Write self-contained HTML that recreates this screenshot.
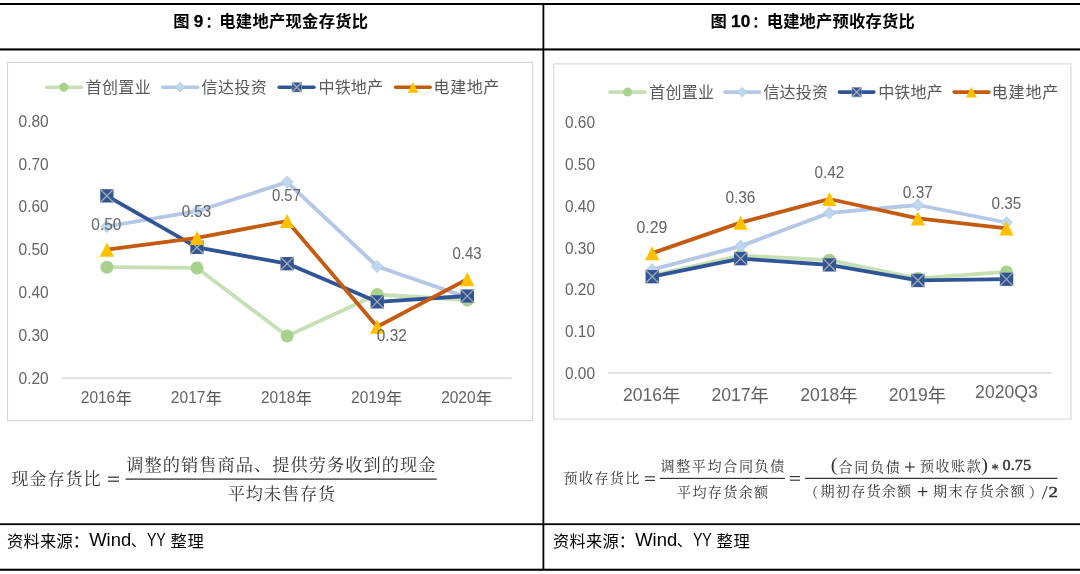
<!DOCTYPE html>
<html lang="zh-CN">
<head>
<meta charset="utf-8">
<title>图 9 / 图 10：电建地产现金存货比、预收存货比</title>
<style>
html,body{margin:0;padding:0;background:#fff}
body{width:1080px;height:574px;overflow:hidden;font-family:"Liberation Sans",sans-serif}
.page{position:relative;width:1080px;height:574px;background:#fff;overflow:hidden}
.blk{position:absolute;overflow:visible;will-change:transform}
svg text{font-family:"Liberation Sans",sans-serif;white-space:pre}
svg text.sf{font-family:"Liberation Serif",serif}
svg text.cj{font-family:"Liberation Sans","Noto Sans CJK SC",sans-serif}
svg text.kai{font-family:"Liberation Serif","Noto Serif CJK SC",serif}
</style>
</head>
<body>
<div class="page">
<svg class="blk" style="left:0px;top:0px" width="1080" height="574" viewBox="0 0 1080 574" role="img" aria-label="table borders"><title>table borders</title><rect x="0.00" y="3.00" width="1080.00" height="2.00" fill="#000"/><rect x="0.00" y="48.40" width="1080.00" height="2.10" fill="#000"/><rect x="0.00" y="523.30" width="1080.00" height="1.80" fill="#000"/><rect x="0.00" y="568.70" width="1080.00" height="2.10" fill="#000"/><rect x="542.50" y="4.00" width="1.80" height="566.00" fill="#000"/></svg>
<section class="fig" aria-label="图 9">
<svg class="blk" style="left:0px;top:5px" width="542" height="43" viewBox="0 5 542 43" role="img" aria-label="图 9：电建地产现金存货比"><title>图 9：电建地产现金存货比</title><text class="cj" x="173.13" y="26.78" font-size="16.3" font-weight="bold" fill="#000">图</text><text x="193.81" y="26.59" font-size="17.40" textLength="9.53" lengthAdjust="spacingAndGlyphs" fill="#000" font-weight="bold" stroke="#000" stroke-width="0.3">9</text><text class="cj" x="205.55" y="26.53" font-size="14.5" font-weight="bold" fill="#000">：</text><text class="cj" x="219.29 235.85 252.41 268.98 285.54 302.10 318.66 335.22 351.78" y="27.09" font-size="16.3" font-weight="bold" fill="#000">电建地产现金存货比</text></svg>
<svg class="blk" style="left:0px;top:51px" width="542" height="385" viewBox="0 51 542 385" role="img" aria-label="电建地产现金存货比 折线图：首创置业、信达投资、中铁地产、电建地产，2016年–2020年"><title>电建地产现金存货比 折线图：首创置业、信达投资、中铁地产、电建地产，2016年–2020年</title><rect x="7.5" y="62.4" width="525.1" height="358.2" fill="#fff" stroke="#D6D6D6" stroke-width="1.1"/><line x1="61.5" y1="378.1" x2="511.7" y2="378.1" stroke="#D2D2D2" stroke-width="1.3"/><line x1="46.6" y1="87.2" x2="81.3" y2="87.2" stroke="#C5E0B4" stroke-width="3.6" stroke-linecap="round"/><circle cx="63.8" cy="87.2" r="4.50" fill="#A9D18E"/><text class="cj" x="85.64 101.99 118.35 134.71" y="92.81" font-size="16" fill="#595959">首创置业</text><line x1="162.8" y1="87.2" x2="197.7" y2="87.2" stroke="#B4C7E7" stroke-width="3.6" stroke-linecap="round"/><path d="M180.2 82.3L185.1 87.2L180.2 92.1L175.3 87.2Z" fill="#BDD7EE" stroke="#B4C7E7" stroke-width="0.8" stroke-linejoin="miter"/><text class="cj" x="201.49 217.93 234.37 250.82" y="92.76" font-size="16" fill="#595959">信达投资</text><line x1="279.3" y1="87.2" x2="313.9" y2="87.2" stroke="#2F5597" stroke-width="3.6" stroke-linecap="round"/><rect x="292.0" y="82.4" width="9.6" height="9.6" fill="#2F5597" stroke="#ABABAB" stroke-width="0.7" stroke-opacity="0.75"/><path d="M292.0 82.4L301.6 92.0M301.6 82.4L292.0 92.0" stroke="#ABABAB" stroke-width="1.40" fill="none"/><text class="cj" x="318.46 334.63 350.79 366.95" y="92.73" font-size="16" fill="#595959">中铁地产</text><line x1="395.5" y1="87.2" x2="430.1" y2="87.2" stroke="#C55A11" stroke-width="3.6" stroke-linecap="round"/><path d="M413.0 81.9L418.4 92.7L407.6 92.7Z" fill="#FFC000"/><text class="cj" x="433.58 450.17 466.76 483.35" y="92.73" font-size="16" fill="#595959">电建地产</text><text x="18.60" y="126.88" font-size="16.50" textLength="30.11" lengthAdjust="spacingAndGlyphs" fill="#636363">0.80</text><text x="18.60" y="169.68" font-size="16.50" textLength="30.11" lengthAdjust="spacingAndGlyphs" fill="#636363">0.70</text><text x="18.60" y="212.48" font-size="16.50" textLength="30.11" lengthAdjust="spacingAndGlyphs" fill="#636363">0.60</text><text x="18.60" y="255.28" font-size="16.50" textLength="30.11" lengthAdjust="spacingAndGlyphs" fill="#636363">0.50</text><text x="18.60" y="298.08" font-size="16.50" textLength="30.11" lengthAdjust="spacingAndGlyphs" fill="#636363">0.40</text><text x="18.60" y="340.88" font-size="16.50" textLength="30.11" lengthAdjust="spacingAndGlyphs" fill="#636363">0.30</text><text x="18.60" y="383.68" font-size="16.50" textLength="30.11" lengthAdjust="spacingAndGlyphs" fill="#636363">0.20</text><polyline points="106.9,267.2 197.0,267.9 287.1,336.0 377.2,294.5 467.3,300.0" fill="none" stroke="#C5E0B4" stroke-width="3.80" stroke-linejoin="round" stroke-linecap="round"/><circle cx="106.9" cy="267.2" r="6.50" fill="#A9D18E"/><circle cx="197.0" cy="267.9" r="6.50" fill="#A9D18E"/><circle cx="287.1" cy="336.0" r="6.50" fill="#A9D18E"/><circle cx="377.2" cy="294.5" r="6.50" fill="#A9D18E"/><circle cx="467.3" cy="300.0" r="6.50" fill="#A9D18E"/><polyline points="106.9,226.5 197.0,211.2 287.1,182.1 377.2,266.5 467.3,297.4" fill="none" stroke="#B4C7E7" stroke-width="3.80" stroke-linejoin="round" stroke-linecap="round"/><path d="M106.9 220.5L112.9 226.5L106.9 232.5L100.9 226.5Z" fill="#BDD7EE" stroke="#B4C7E7" stroke-width="0.8" stroke-linejoin="miter"/><path d="M197.0 205.2L203.0 211.2L197.0 217.2L191.0 211.2Z" fill="#BDD7EE" stroke="#B4C7E7" stroke-width="0.8" stroke-linejoin="miter"/><path d="M287.1 176.1L293.1 182.1L287.1 188.1L281.1 182.1Z" fill="#BDD7EE" stroke="#B4C7E7" stroke-width="0.8" stroke-linejoin="miter"/><path d="M377.2 260.5L383.2 266.5L377.2 272.5L371.2 266.5Z" fill="#BDD7EE" stroke="#B4C7E7" stroke-width="0.8" stroke-linejoin="miter"/><path d="M467.3 291.4L473.3 297.4L467.3 303.4L461.3 297.4Z" fill="#BDD7EE" stroke="#B4C7E7" stroke-width="0.8" stroke-linejoin="miter"/><polyline points="106.9,195.8 197.0,247.3 287.1,263.6 377.2,301.8 467.3,296.0" fill="none" stroke="#2F5597" stroke-width="3.80" stroke-linejoin="round" stroke-linecap="round"/><rect x="100.2" y="189.2" width="13.3" height="13.3" fill="#2F5597" stroke="#ABABAB" stroke-width="0.7" stroke-opacity="0.25"/><path d="M100.2 189.2L113.6 202.5M113.6 189.2L100.2 202.5" stroke="#ABABAB" stroke-width="1.20" fill="none"/><rect x="190.3" y="240.7" width="13.3" height="13.3" fill="#2F5597" stroke="#ABABAB" stroke-width="0.7" stroke-opacity="0.25"/><path d="M190.3 240.7L203.7 254.0M203.7 240.7L190.3 254.0" stroke="#ABABAB" stroke-width="1.20" fill="none"/><rect x="280.5" y="257.0" width="13.3" height="13.3" fill="#2F5597" stroke="#ABABAB" stroke-width="0.7" stroke-opacity="0.25"/><path d="M280.5 257.0L293.8 270.2M293.8 257.0L280.5 270.2" stroke="#ABABAB" stroke-width="1.20" fill="none"/><rect x="370.6" y="295.2" width="13.3" height="13.3" fill="#2F5597" stroke="#ABABAB" stroke-width="0.7" stroke-opacity="0.25"/><path d="M370.6 295.2L383.8 308.4M383.8 295.2L370.6 308.4" stroke="#ABABAB" stroke-width="1.20" fill="none"/><rect x="460.7" y="289.4" width="13.3" height="13.3" fill="#2F5597" stroke="#ABABAB" stroke-width="0.7" stroke-opacity="0.25"/><path d="M460.7 289.4L473.9 302.6M473.9 289.4L460.7 302.6" stroke="#ABABAB" stroke-width="1.20" fill="none"/><polyline points="106.9,249.7 197.0,237.8 287.1,221.0 377.2,326.7 467.3,279.2" fill="none" stroke="#C55A11" stroke-width="3.80" stroke-linejoin="round" stroke-linecap="round"/><path d="M106.9 242.6L114.0 256.8L99.8 256.8Z" fill="#FFC000"/><path d="M197.0 230.7L204.1 244.9L189.9 244.9Z" fill="#FFC000"/><path d="M287.1 213.9L294.2 228.1L280.0 228.1Z" fill="#FFC000"/><path d="M377.2 319.6L384.3 333.8L370.1 333.8Z" fill="#FFC000"/><path d="M467.3 272.1L474.4 286.3L460.2 286.3Z" fill="#FFC000"/><text x="91.30" y="230.08" font-size="16.50" textLength="30.11" lengthAdjust="spacingAndGlyphs" fill="#636363">0.50</text><text x="181.71" y="217.38" font-size="16.50" textLength="29.46" lengthAdjust="spacingAndGlyphs" fill="#636363">0.53</text><text x="271.92" y="200.98" font-size="16.50" textLength="29.03" lengthAdjust="spacingAndGlyphs" fill="#636363">0.57</text><text x="376.80" y="341.38" font-size="16.50" textLength="29.98" lengthAdjust="spacingAndGlyphs" fill="#636363">0.32</text><text x="452.52" y="258.88" font-size="16.50" textLength="29.14" lengthAdjust="spacingAndGlyphs" fill="#636363">0.43</text><text x="80.77" y="403.03" font-size="16.50" textLength="34.46" lengthAdjust="spacingAndGlyphs" fill="#636363">2016</text><text class="cj" x="115.67" y="403.69" font-size="16.2" fill="#595959">年</text><text x="170.87" y="403.03" font-size="16.50" textLength="34.56" lengthAdjust="spacingAndGlyphs" fill="#636363">2017</text><text class="cj" x="205.77" y="403.69" font-size="16.2" fill="#595959">年</text><text x="260.97" y="403.03" font-size="16.50" textLength="34.45" lengthAdjust="spacingAndGlyphs" fill="#636363">2018</text><text class="cj" x="295.87" y="403.69" font-size="16.2" fill="#595959">年</text><text x="351.07" y="403.03" font-size="16.50" textLength="34.52" lengthAdjust="spacingAndGlyphs" fill="#636363">2019</text><text class="cj" x="385.97" y="403.69" font-size="16.2" fill="#595959">年</text><text x="441.17" y="403.03" font-size="16.50" textLength="34.38" lengthAdjust="spacingAndGlyphs" fill="#636363">2020</text><text class="cj" x="476.07" y="403.69" font-size="16.2" fill="#595959">年</text></svg>
<svg class="blk" style="left:0px;top:440px" width="542" height="80" viewBox="0 440 542 80" role="img" aria-label="现金存货比 = 调整的销售商品、提供劳务收到的现金 / 平均未售存货"><title>现金存货比 = 调整的销售商品、提供劳务收到的现金 / 平均未售存货</title><text class="kai" x="11.28 29.36 47.44 65.53 83.61" y="484.98" font-size="17.2" fill="#333333">现金存货比</text><rect x="108.10" y="476.57" width="10.90" height="1.25" fill="#333333"/><rect x="108.10" y="480.57" width="10.90" height="1.25" fill="#333333"/><rect x="125.60" y="478.45" width="311.20" height="1.30" fill="#333333"/><text class="kai" x="126.32 144.56 162.80 181.04 199.28 217.51 235.75 253.99 272.23 290.47 308.71 326.95 345.19 363.43 381.67 399.90 418.14" y="470.67" font-size="17.2" fill="#333333">调整的销售商品、提供劳务收到的现金</text><text class="kai" x="227.72 245.79 263.87 281.95 300.03 318.11" y="499.95" font-size="17.2" fill="#333333">平均未售存货</text></svg>
<svg class="blk" style="left:0px;top:526px" width="542" height="42" viewBox="0 526 542 42" role="img" aria-label="资料来源：Wind、YY 整理"><title>资料来源：Wind、YY 整理</title><text class="cj" x="7.00 23.48 39.96 56.44" y="546.78" font-size="16.3" fill="#000">资料来源</text><text class="cj" x="72.76" y="546.75" font-size="16.3" fill="#000">：</text><text x="89.22" y="546.00" font-size="17.60" textLength="41.97" lengthAdjust="spacingAndGlyphs" fill="#000">Wind</text><text class="cj" x="130.79" y="546.44" font-size="15.5" fill="#000">、</text><text x="146.89" y="546.00" font-size="17.60" textLength="18.92" lengthAdjust="spacingAndGlyphs" fill="#000">YY</text><text class="cj" x="170.46 187.54" y="547.01" font-size="16.3" fill="#000">整理</text></svg>
</section>
<section class="fig" aria-label="图 10">
<svg class="blk" style="left:545px;top:5px" width="535" height="43" viewBox="545 5 535 43" role="img" aria-label="图 10：电建地产预收存货比"><title>图 10：电建地产预收存货比</title><text class="cj" x="710.43" y="26.78" font-size="16.3" font-weight="bold" fill="#000">图</text><text x="731.11" y="26.59" font-size="17.40" textLength="19.19" lengthAdjust="spacingAndGlyphs" fill="#000" font-weight="bold" stroke="#000" stroke-width="0.3">10</text><text class="cj" x="752.15" y="26.53" font-size="14.5" font-weight="bold" fill="#000">：</text><text class="cj" x="766.69 783.15 799.61 816.08 832.54 849.00 865.46 881.92 898.38" y="27.06" font-size="16.3" font-weight="bold" fill="#000">电建地产预收存货比</text></svg>
<svg class="blk" style="left:545px;top:51px" width="535" height="385" viewBox="545 51 535 385" role="img" aria-label="电建地产预收存货比 折线图：首创置业、信达投资、中铁地产、电建地产，2016年–2020Q3"><title>电建地产预收存货比 折线图：首创置业、信达投资、中铁地产、电建地产，2016年–2020Q3</title><rect x="553.8" y="63.9" width="517.2" height="355.2" fill="#fff" stroke="#D6D6D6" stroke-width="1.1"/><line x1="608.2" y1="372.9" x2="1051.4" y2="372.9" stroke="#D2D2D2" stroke-width="1.3"/><line x1="609.9" y1="92.1" x2="645.1" y2="92.1" stroke="#C5E0B4" stroke-width="3.6" stroke-linecap="round"/><circle cx="627.5" cy="92.1" r="4.50" fill="#A9D18E"/><text class="cj" x="649.14 665.43 681.72 698.01" y="97.71" font-size="16" fill="#595959">首创置业</text><line x1="725.0" y1="92.1" x2="759.6" y2="92.1" stroke="#B4C7E7" stroke-width="3.6" stroke-linecap="round"/><path d="M742.3 87.2L747.2 92.1L742.3 97.0L737.4 92.1Z" fill="#BDD7EE" stroke="#B4C7E7" stroke-width="0.8" stroke-linejoin="miter"/><text class="cj" x="763.39 779.56 795.74 811.92" y="97.66" font-size="16" fill="#595959">信达投资</text><line x1="839.4" y1="92.1" x2="873.9" y2="92.1" stroke="#2F5597" stroke-width="3.6" stroke-linecap="round"/><rect x="851.9" y="87.3" width="9.6" height="9.6" fill="#2F5597" stroke="#ABABAB" stroke-width="0.7" stroke-opacity="0.75"/><path d="M851.9 87.3L861.5 96.9M861.5 87.3L851.9 96.9" stroke="#ABABAB" stroke-width="1.40" fill="none"/><text class="cj" x="878.16 894.36 910.56 926.75" y="97.63" font-size="16" fill="#595959">中铁地产</text><line x1="954.1" y1="92.1" x2="988.9" y2="92.1" stroke="#C55A11" stroke-width="3.6" stroke-linecap="round"/><path d="M971.4 86.8L976.8 97.6L966.0 97.6Z" fill="#FFC000"/><text class="cj" x="991.68 1008.57 1025.46 1042.35" y="97.63" font-size="16" fill="#595959">电建地产</text><text x="565.00" y="128.08" font-size="16.50" textLength="30.00" lengthAdjust="spacingAndGlyphs" fill="#636363">0.60</text><text x="565.00" y="169.93" font-size="16.50" textLength="30.00" lengthAdjust="spacingAndGlyphs" fill="#636363">0.50</text><text x="565.00" y="211.78" font-size="16.50" textLength="30.00" lengthAdjust="spacingAndGlyphs" fill="#636363">0.40</text><text x="565.00" y="253.63" font-size="16.50" textLength="30.00" lengthAdjust="spacingAndGlyphs" fill="#636363">0.30</text><text x="565.00" y="295.48" font-size="16.50" textLength="30.00" lengthAdjust="spacingAndGlyphs" fill="#636363">0.20</text><text x="565.00" y="337.33" font-size="16.50" textLength="30.00" lengthAdjust="spacingAndGlyphs" fill="#636363">0.10</text><text x="565.00" y="379.18" font-size="16.50" textLength="30.00" lengthAdjust="spacingAndGlyphs" fill="#636363">0.00</text><polyline points="652.2,275.4 740.6,255.6 829.4,260.2 917.9,278.4 1006.5,271.9" fill="none" stroke="#C5E0B4" stroke-width="3.80" stroke-linejoin="round" stroke-linecap="round"/><circle cx="652.2" cy="275.4" r="6.50" fill="#A9D18E"/><circle cx="740.6" cy="255.6" r="6.50" fill="#A9D18E"/><circle cx="829.4" cy="260.2" r="6.50" fill="#A9D18E"/><circle cx="917.9" cy="278.4" r="6.50" fill="#A9D18E"/><circle cx="1006.5" cy="271.9" r="6.50" fill="#A9D18E"/><polyline points="652.2,269.7 740.6,246.1 829.4,212.9 917.9,205.0 1006.5,222.5" fill="none" stroke="#B4C7E7" stroke-width="3.80" stroke-linejoin="round" stroke-linecap="round"/><path d="M652.2 263.7L658.2 269.7L652.2 275.7L646.2 269.7Z" fill="#BDD7EE" stroke="#B4C7E7" stroke-width="0.8" stroke-linejoin="miter"/><path d="M740.6 240.1L746.6 246.1L740.6 252.1L734.6 246.1Z" fill="#BDD7EE" stroke="#B4C7E7" stroke-width="0.8" stroke-linejoin="miter"/><path d="M829.4 206.9L835.4 212.9L829.4 218.9L823.4 212.9Z" fill="#BDD7EE" stroke="#B4C7E7" stroke-width="0.8" stroke-linejoin="miter"/><path d="M917.9 199.0L923.9 205.0L917.9 211.0L911.9 205.0Z" fill="#BDD7EE" stroke="#B4C7E7" stroke-width="0.8" stroke-linejoin="miter"/><path d="M1006.5 216.5L1012.5 222.5L1006.5 228.5L1000.5 222.5Z" fill="#BDD7EE" stroke="#B4C7E7" stroke-width="0.8" stroke-linejoin="miter"/><polyline points="652.2,276.6 740.6,258.6 829.4,264.9 917.9,280.4 1006.5,279.2" fill="none" stroke="#2F5597" stroke-width="3.80" stroke-linejoin="round" stroke-linecap="round"/><rect x="645.6" y="270.0" width="13.3" height="13.3" fill="#2F5597" stroke="#ABABAB" stroke-width="0.7" stroke-opacity="0.25"/><path d="M645.6 270.0L658.9 283.2M658.9 270.0L645.6 283.2" stroke="#ABABAB" stroke-width="1.20" fill="none"/><rect x="734.0" y="252.0" width="13.3" height="13.3" fill="#2F5597" stroke="#ABABAB" stroke-width="0.7" stroke-opacity="0.25"/><path d="M734.0 252.0L747.2 265.2M747.2 252.0L734.0 265.2" stroke="#ABABAB" stroke-width="1.20" fill="none"/><rect x="822.8" y="258.2" width="13.3" height="13.3" fill="#2F5597" stroke="#ABABAB" stroke-width="0.7" stroke-opacity="0.25"/><path d="M822.8 258.2L836.0 271.5M836.0 258.2L822.8 271.5" stroke="#ABABAB" stroke-width="1.20" fill="none"/><rect x="911.2" y="273.8" width="13.3" height="13.3" fill="#2F5597" stroke="#ABABAB" stroke-width="0.7" stroke-opacity="0.25"/><path d="M911.2 273.8L924.5 287.0M924.5 273.8L911.2 287.0" stroke="#ABABAB" stroke-width="1.20" fill="none"/><rect x="999.9" y="272.6" width="13.3" height="13.3" fill="#2F5597" stroke="#ABABAB" stroke-width="0.7" stroke-opacity="0.25"/><path d="M999.9 272.6L1013.1 285.8M1013.1 272.6L999.9 285.8" stroke="#ABABAB" stroke-width="1.20" fill="none"/><polyline points="652.2,253.1 740.6,222.6 829.4,199.0 917.9,218.3 1006.5,228.3" fill="none" stroke="#C55A11" stroke-width="3.80" stroke-linejoin="round" stroke-linecap="round"/><path d="M652.2 246.0L659.3 260.2L645.1 260.2Z" fill="#FFC000"/><path d="M740.6 215.5L747.7 229.7L733.5 229.7Z" fill="#FFC000"/><path d="M829.4 191.9L836.5 206.1L822.3 206.1Z" fill="#FFC000"/><path d="M917.9 211.2L925.0 225.4L910.8 225.4Z" fill="#FFC000"/><path d="M1006.5 221.2L1013.6 235.4L999.4 235.4Z" fill="#FFC000"/><text x="636.48" y="232.98" font-size="16.50" textLength="30.77" lengthAdjust="spacingAndGlyphs" fill="#636363">0.29</text><text x="725.40" y="202.78" font-size="16.50" textLength="30.08" lengthAdjust="spacingAndGlyphs" fill="#636363">0.36</text><text x="814.40" y="178.48" font-size="16.50" textLength="29.77" lengthAdjust="spacingAndGlyphs" fill="#636363">0.42</text><text x="902.80" y="198.38" font-size="16.50" textLength="29.98" lengthAdjust="spacingAndGlyphs" fill="#636363">0.37</text><text x="991.40" y="208.68" font-size="16.50" textLength="29.84" lengthAdjust="spacingAndGlyphs" fill="#636363">0.35</text><text x="623.02" y="401.45" font-size="18.30" textLength="39.05" lengthAdjust="spacingAndGlyphs" fill="#636363">2016</text><text class="cj" x="662.12" y="402.34" font-size="18.3" fill="#595959">年</text><text x="711.41" y="401.45" font-size="18.30" textLength="39.17" lengthAdjust="spacingAndGlyphs" fill="#636363">2017</text><text class="cj" x="750.52" y="402.34" font-size="18.3" fill="#595959">年</text><text x="800.22" y="401.45" font-size="18.30" textLength="39.05" lengthAdjust="spacingAndGlyphs" fill="#636363">2018</text><text class="cj" x="839.32" y="402.34" font-size="18.3" fill="#595959">年</text><text x="888.72" y="401.45" font-size="18.30" textLength="39.12" lengthAdjust="spacingAndGlyphs" fill="#636363">2019</text><text class="cj" x="927.82" y="402.34" font-size="18.3" fill="#595959">年</text><text x="975.11" y="398.20" font-size="18.30" textLength="62.66" lengthAdjust="spacingAndGlyphs" fill="#636363">2020Q3</text></svg>
<svg class="blk" style="left:545px;top:440px" width="535" height="80" viewBox="545 440 535 80" role="img" aria-label="预收存货比 = 调整平均合同负债 / 平均存货余额 = (合同负债 + 预收账款) * 0.75 / （期初存货余额 + 期末存货余额）/2"><title>预收存货比 = 调整平均合同负债 / 平均存货余额 = (合同负债 + 预收账款) * 0.75 / （期初存货余额 + 期末存货余额）/2</title><text class="kai" x="563.39 578.88 594.38 609.87 625.36" y="482.97" font-size="14.1" fill="#333333">预收存货比</text><rect x="645.00" y="476.23" width="10.00" height="1.15" fill="#333333"/><rect x="645.00" y="479.83" width="10.00" height="1.15" fill="#333333"/><rect x="660.00" y="477.80" width="125.00" height="1.20" fill="#333333"/><text class="kai" x="660.50 676.18 691.86 707.54 723.22 738.90 754.58 770.26" y="471.01" font-size="14.1" fill="#333333">调整平均合同负债</text><text class="kai" x="677.02 692.42 707.82 723.22 738.62 754.02" y="496.50" font-size="14.1" fill="#333333">平均存货余额</text><rect x="790.00" y="476.02" width="10.00" height="1.15" fill="#333333"/><rect x="790.00" y="479.62" width="10.00" height="1.15" fill="#333333"/><rect x="805.00" y="477.77" width="252.40" height="1.25" fill="#333333"/><text x="830.71" y="470.69" font-size="19.50" textLength="6.74" lengthAdjust="spacingAndGlyphs" fill="#333333" class="sf">(</text><text class="kai" x="838.38 854.21 870.04 885.86" y="471.50" font-size="14.1" fill="#333333">合同负债</text><rect x="905.00" y="466.40" width="9.70" height="1.20" fill="#333333"/><rect x="909.25" y="462.15" width="1.20" height="9.70" fill="#333333"/><text class="kai" x="919.89 935.49 951.09 966.68" y="471.41" font-size="14.1" fill="#333333">预收账款</text><text x="981.15" y="470.69" font-size="19.50" textLength="6.74" lengthAdjust="spacingAndGlyphs" fill="#333333" class="sf">)</text><text x="991.50" y="474.07" font-size="15.00" textLength="7.19" lengthAdjust="spacingAndGlyphs" fill="#333333" class="sf" stroke="#333333" stroke-width="0.3">*</text><text x="1002.58" y="470.38" font-size="15.60" textLength="28.45" lengthAdjust="spacingAndGlyphs" fill="#333333" class="sf" stroke="#333333" stroke-width="0.45">0.75</text><text class="kai" x="804.30" y="496.77" font-size="14.1" fill="#333333">（</text><text class="kai" x="820.52 835.84 851.16 866.48 881.80 897.12" y="496.17" font-size="14.1" fill="#333333">期初存货余额</text><rect x="918.00" y="491.00" width="9.40" height="1.20" fill="#333333"/><rect x="922.10" y="486.90" width="1.20" height="9.40" fill="#333333"/><text class="kai" x="933.02 948.50 963.98 979.46 994.94 1010.42" y="496.21" font-size="14.1" fill="#333333">期末存货余额</text><text class="kai" x="1028.84" y="496.77" font-size="14.1" fill="#333333">）</text><text x="1041.70" y="498.97" font-size="19.00" textLength="6.10" lengthAdjust="spacingAndGlyphs" fill="#333333" class="sf">/</text><text x="1048.47" y="496.87" font-size="15.00" textLength="9.48" lengthAdjust="spacingAndGlyphs" fill="#333333" class="sf" stroke="#333333" stroke-width="0.4">2</text></svg>
<svg class="blk" style="left:545px;top:526px" width="535" height="42" viewBox="545 526 535 42" role="img" aria-label="资料来源：Wind、YY 整理"><title>资料来源：Wind、YY 整理</title><text class="cj" x="553.00 569.48 585.96 602.44" y="546.78" font-size="16.3" fill="#000">资料来源</text><text class="cj" x="618.76" y="546.75" font-size="16.3" fill="#000">：</text><text x="635.22" y="546.00" font-size="17.60" textLength="41.97" lengthAdjust="spacingAndGlyphs" fill="#000">Wind</text><text class="cj" x="676.79" y="546.44" font-size="15.5" fill="#000">、</text><text x="692.89" y="546.00" font-size="17.60" textLength="18.92" lengthAdjust="spacingAndGlyphs" fill="#000">YY</text><text class="cj" x="716.46 733.54" y="547.01" font-size="16.3" fill="#000">整理</text></svg>
</section>
</div>
</body>
</html>
